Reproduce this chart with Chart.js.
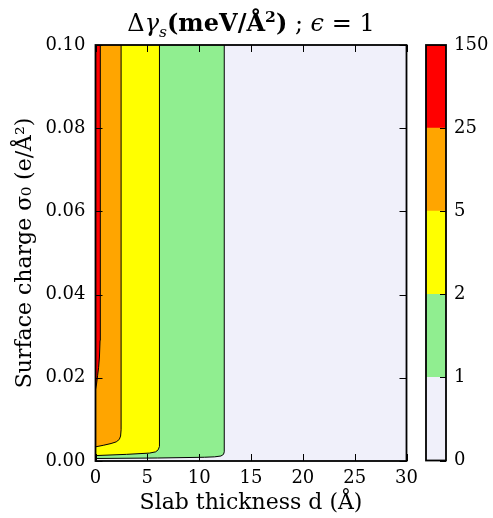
<!DOCTYPE html>
<html><head><meta charset="utf-8">
<script src="https://cdn.jsdelivr.net/npm/chart.js@4.4.1/dist/chart.umd.min.js"></script>
<style>
html,body{margin:0;padding:0;background:#fff;}
#wrap{position:relative;width:493px;height:518px;overflow:hidden;}
#main{position:absolute;left:0;top:0;}
#cbar{position:absolute;left:415px;top:0;}
#title{position:absolute;left:95.5px;width:311px;top:8px;text-align:center;font-family:'DejaVu Serif';font-size:24px;line-height:30px;white-space:nowrap;color:#000;}
#title sub,#title sup{font-size:65%;line-height:0;}
</style></head><body>
<div id="wrap">
<canvas id="main" width="493" height="518"></canvas>
<canvas id="cbar" width="78" height="518"></canvas>
<div id="title">Δ<i>γ</i><sub><i>s</i></sub><b>(meV/Å<sup>2</sup>)</b> ; <i>ϵ</i> = 1</div>
</div>
<script>
// ---- data ----
const levels = [0, 1, 2, 5, 25, 150];
const levelColors = ['#F0F0FA', '#90EE90', '#FFFF00', '#FFA500', '#FF0000'];
const cbarSegments = [1, 1, 1, 1, 1];
const xRange = [0, 30];
const yRange = [0, 0.10];

// contour boundaries: slab thickness d (Å) vs surface charge sigma0 (e/Å²)
const level0X = [0, 30];
const level0Y = [0, 0];
const level1X = [0, 6, 10.5, 11.5, 12.1, 12.35, 12.42, 12.42];
const level1Y = [0.0006, 0.00072, 0.0009, 0.001, 0.0012, 0.0016, 0.0022, 0.10];
const level2X = [0, 3, 5.2, 5.8, 6.05, 6.17, 6.17];
const level2Y = [0.0013, 0.0016, 0.0019, 0.0022, 0.0027, 0.0035, 0.10];
const level5X = [0, 0.8, 1.5, 2.0, 2.3, 2.42, 2.47, 2.47];
const level5Y = [0.0034, 0.0038, 0.0042, 0.0046, 0.0052, 0.006, 0.0075, 0.10];
const level25X = [0, 0.1, 0.2, 0.3, 0.38, 0.44, 0.46, 0.47];
const level25Y = [0.0172, 0.0185, 0.0205, 0.0225, 0.025, 0.029, 0.035, 0.10];

const pts = (xs, ys) => xs.map((x, i) => ({x, y: ys[i]}));

Chart.defaults.color = '#000';
Chart.defaults.font.family = "'DejaVu Serif', serif";

const frameTicks = {
  id: 'frameTicks',
  afterDatasetsDraw(chart, args, opts) {
    const {ctx, chartArea: a} = chart;
    const L = opts.len;
    ctx.save();
    ctx.strokeStyle = '#000';
    ctx.lineWidth = 1;
    ctx.beginPath();
    if (opts.xTicks) {
      const sx = chart.scales.x;
      sx.ticks.forEach((t, i) => {
        const px = Math.round(sx.getPixelForTick(i)) + 0.5;
        ctx.moveTo(px, a.bottom); ctx.lineTo(px, a.bottom - L);
        ctx.moveTo(px, a.top); ctx.lineTo(px, a.top + L);
      });
    }
    const sy = chart.scales.y;
    sy.ticks.forEach((t, i) => {
      const py = Math.round(sy.getPixelForTick(i)) + 0.5;
      if (opts.leftTicks) { ctx.moveTo(a.left, py); ctx.lineTo(a.left + L, py); }
      ctx.moveTo(a.right, py); ctx.lineTo(a.right - L, py);
    });
    ctx.stroke();
    ctx.lineWidth = opts.frame;
    ctx.strokeRect(a.left, a.top, a.right - a.left, a.bottom - a.top);
    ctx.restore();
  }
};

function region(xs, ys, color, border) {
  return {
    data: pts(xs, ys),
    showLine: true,
    fill: 'end',
    backgroundColor: color,
    borderColor: '#000',
    borderWidth: border ? 1 : 0,
    pointRadius: 0,
    pointHoverRadius: 0,
    tension: 0
  };
}

new Chart(document.getElementById('main'), {
  type: 'scatter',
  data: {
    datasets: [
      region(level25X, level25Y, levelColors[4], true),
      region(level5X, level5Y, levelColors[3], true),
      region(level2X, level2Y, levelColors[2], true),
      region(level1X, level1Y, levelColors[1], true),
      region(level0X, level0Y, levelColors[0], false)
    ]
  },
  options: {
    responsive: false,
    animation: false,
    devicePixelRatio: 1,
    layout: {padding: {left: 0, top: 45, right: 86.5, bottom: 0}},
    plugins: {
      legend: {display: false},
      tooltip: {enabled: false},
      frameTicks: {len: 7, frame: 1.8, xTicks: true, leftTicks: true}
    },
    scales: {
      x: {
        type: 'linear', min: xRange[0], max: xRange[1],
        grid: {display: false, drawTicks: false},
        border: {display: false},
        ticks: {stepSize: 5, padding: 7, font: {size: 18}, maxRotation: 0},
        title: {display: true, text: 'Slab thickness d (Å)', font: {size: 22}, padding: {top: 0, bottom: 2}},
        afterFit(s) { s.height = 57; }
      },
      y: {
        type: 'linear', min: yRange[0], max: yRange[1],
        grid: {display: false, drawTicks: false},
        border: {display: false},
        ticks: {stepSize: 0.02, padding: 10, font: {size: 18}, callback: v => v.toFixed(2)},
        title: {display: true, text: 'Surface charge σ₀ (e/Å²)', font: {size: 22}, padding: {top: 12, bottom: 0}},
        afterFit(s) { s.width = 95.5; }
      }
    }
  },
  plugins: [frameTicks]
});

new Chart(document.getElementById('cbar'), {
  type: 'bar',
  data: {
    labels: [''],
    datasets: levelColors.map((c, i) => ({
      data: [cbarSegments[i]],
      backgroundColor: c,
      borderWidth: 0,
      barPercentage: 1,
      categoryPercentage: 1
    }))
  },
  options: {
    responsive: false,
    animation: false,
    devicePixelRatio: 1,
    layout: {padding: {left: 11, top: 45, right: 0, bottom: 57.5}},
    plugins: {
      legend: {display: false},
      tooltip: {enabled: false},
      frameTicks: {len: 6, frame: 1.8, xTicks: false, leftTicks: false}
    },
    scales: {
      x: {stacked: true, display: false},
      y: {
        stacked: true, min: 0, max: levels.length - 1, position: 'right',
        grid: {display: false, drawTicks: false},
        border: {display: false},
        ticks: {stepSize: 1, padding: 8, font: {size: 18}, callback: v => levels[v]},
        afterFit(s) { s.width = 47; }
      }
    }
  },
  plugins: [frameTicks]
});
</script>
</body></html>
